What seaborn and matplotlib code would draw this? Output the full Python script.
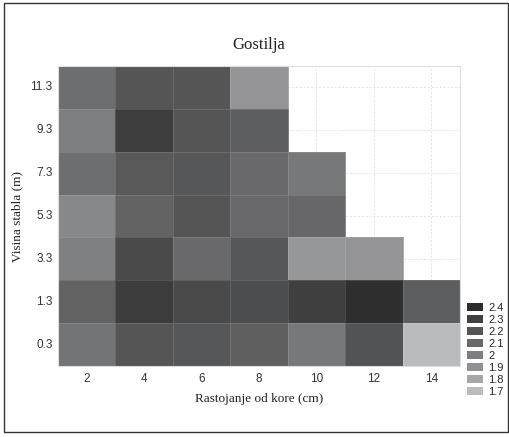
import numpy as np
import pandas as pd
import matplotlib
matplotlib.use('Agg')
import matplotlib.pyplot as plt
from matplotlib.colors import LinearSegmentedColormap, Normalize
from matplotlib.patches import Patch, Rectangle
import seaborn as sns

sns.set_style('white')

# data
distance = [2, 4, 6, 8, 10, 12, 14]
height = [11.3, 9.3, 7.3, 5.3, 3.3, 1.3, 0.3]
row_11_3 = [2.08, 2.20, 2.20, 1.89, np.nan, np.nan, np.nan]
row_9_3 = [2.00, 2.31, 2.20, 2.16, np.nan, np.nan, np.nan]
row_7_3 = [2.08, 2.18, 2.19, 2.10, 2.03, np.nan, np.nan]
row_5_3 = [1.95, 2.13, 2.20, 2.10, 2.11, np.nan, np.nan]
row_3_3 = [1.99, 2.25, 2.10, 2.19, 1.88, 1.89, np.nan]
row_1_3 = [2.13, 2.32, 2.25, 2.24, 2.30, 2.39, 2.16]
row_0_3 = [2.05, 2.20, 2.19, 2.15, 2.03, 2.21, 1.69]
levels = [2.4, 2.3, 2.2, 2.1, 2.0, 1.9, 1.8, 1.7]
level_labels = ['2.4', '2.3', '2.2', '2.1', '2', '1.9', '1.8', '1.7']

df = pd.DataFrame([row_11_3, row_9_3, row_7_3, row_5_3, row_3_3, row_1_3, row_0_3],
                  index=height, columns=distance)

cmap = LinearSegmentedColormap.from_list('grays', ['#babbbd', '#2c2c2d'])
norm = Normalize(vmin=1.7, vmax=2.4)

fig = plt.figure(figsize=(5.10, 4.37), dpi=100)
ax = fig.add_axes([58 / 510, 71 / 437, 402 / 510, 300 / 437])

sns.heatmap(df, ax=ax, cmap=cmap, norm=norm, cbar=False,
            linewidths=0.4, linecolor=(1, 1, 1, 0.12))
for c in ax.collections:
    c.set_zorder(2)
ax.grid(True, linestyle=(0, (2, 2)), color='#e2e2e2', linewidth=0.7, zorder=0)

for s in ax.spines.values():
    s.set_visible(True)
    s.set_color('#dddddd')
    s.set_linewidth(0.8)

ax.set_xticklabels(distance, rotation=0, fontsize=8.5, color='#333333',
                   family='Liberation Sans')
ax.set_yticklabels(height, rotation=0, fontsize=8.5, color='#333333',
                   family='Liberation Sans')
ax.tick_params(axis='x', length=0, pad=5)
ax.tick_params(axis='y', length=0, pad=4)
ax.set_xlabel('Rastojanje od kore (cm)', family='Liberation Serif',
              fontsize=9.5, color='#222222', labelpad=6)
ax.set_ylabel('Visina stabla (m)', family='Liberation Serif',
              fontsize=9.5, color='#222222', labelpad=5)
ax.set_title('Gostilja', family='Liberation Serif', fontsize=12,
             color='#222222', pad=12)

handles = [Patch(facecolor=cmap(norm(v)), edgecolor='none') for v in levels]
fig.legend(handles, level_labels, loc='lower left',
           bbox_to_anchor=(467 / 510, 40 / 437), frameon=False,
           prop={'family': 'Liberation Sans', 'size': 8},
           handlelength=1.45, handleheight=0.7, labelspacing=0.18,
           handletextpad=0.45, borderpad=0, borderaxespad=0)

fig.patches.append(Rectangle((4 / 510, 5 / 437), 504 / 510, 429 / 437,
                             transform=fig.transFigure, fill=False,
                             edgecolor='#333333', linewidth=1.0))

fig.savefig('out.png', dpi=100)
